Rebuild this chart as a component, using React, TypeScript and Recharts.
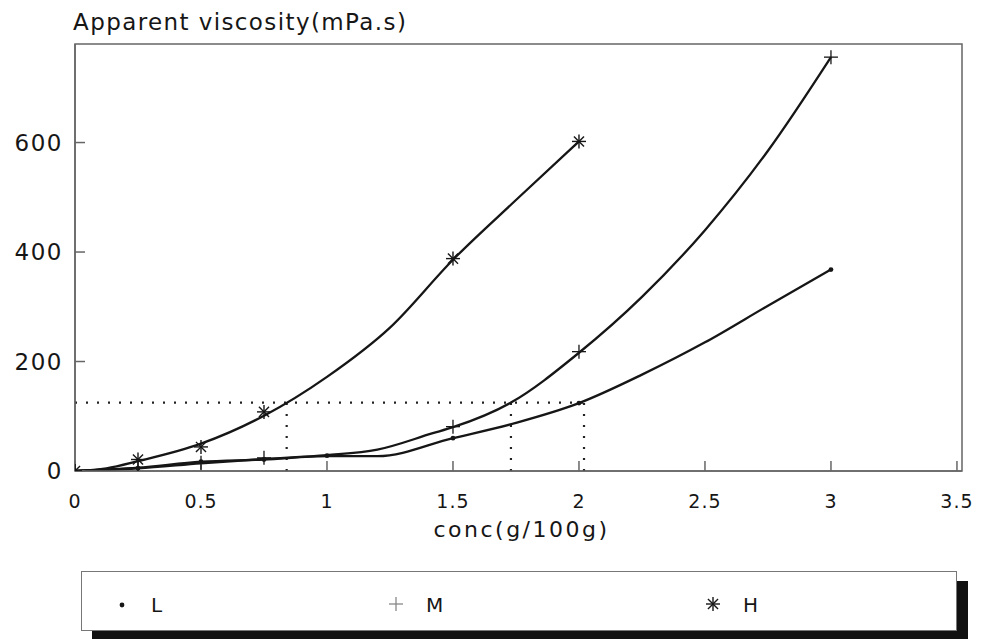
import React from 'react';
import {
  ComposedChart, Line, Scatter, XAxis, YAxis, ReferenceLine, ReferenceArea, Legend,
} from 'recharts';

// measured points (markers)
const lPoints: [number, number][] = [[0, 0], [0.25, 5], [0.5, 17], [0.75, 21], [1, 28], [1.5, 60], [2, 124], [3, 368]];
const mPoints: [number, number][] = [[0, 0], [0.25, 6], [0.5, 15], [0.75, 24], [1.5, 81], [2, 218], [3, 756]];
const hPoints: [number, number][] = [[0, 0], [0.25, 21], [0.5, 44], [0.75, 108], [1.5, 388], [2, 602]];

// fitted curves
const lCurve: [number, number][] = [
  [0, 0], [0.25, 6], [0.5, 17], [0.75, 21], [1, 27], [1.2, 27], [1.5, 60], [1.75, 88],
  [2, 124], [2.25, 176], [2.5, 235], [2.75, 302], [3, 368],
];
const mCurve: [number, number][] = [
  [0, 0], [0.25, 5], [0.5, 14], [0.75, 22], [1, 29], [1.2, 39], [1.42, 69], [1.5, 80],
  [1.73, 125], [2, 216], [2.25, 318], [2.5, 440], [2.75, 585], [3, 756],
];
const hCurve: [number, number][] = [
  [0, 0], [0.125, 5], [0.25, 18], [0.5, 50], [0.75, 101], [1, 172], [1.25, 262],
  [1.5, 386], [1.75, 495], [2, 602],
];

// dotted guide at 125 mPa.s and where it meets each curve
const targetVisc = 125;
const crossConc = [0.84, 1.73, 2.02];

const concTicks = [0, 0.5, 1, 1.5, 2, 2.5, 3, 3.5];
const viscTicks = [0, 200, 400, 600];
const seriesNames = ['L', 'M', 'H'];

const rows = (pts: [number, number][]) => pts.map(([x, y]) => ({ x, y }));

const FONT = '"DejaVu Sans", sans-serif';
const INK = '#161616';
const AXIS = '#666';

function Dot({ cx, cy }: any) {
  return <circle cx={cx} cy={cy} r={2.4} fill={INK} />;
}
function Plus({ cx, cy, color = INK }: any) {
  const r = 7;
  return (
    <g stroke={color} strokeWidth={1.3}>
      <line x1={cx - r} y1={cy} x2={cx + r} y2={cy} />
      <line x1={cx} y1={cy - r} x2={cx} y2={cy + r} />
    </g>
  );
}
function Star({ cx, cy }: any) {
  const r = 7;
  const d = r * 0.72;
  return (
    <g stroke={INK} strokeWidth={1.4}>
      <line x1={cx - r} y1={cy} x2={cx + r} y2={cy} />
      <line x1={cx} y1={cy - r} x2={cx} y2={cy + r} />
      <line x1={cx - d} y1={cy - d} x2={cx + d} y2={cy + d} />
      <line x1={cx - d} y1={cy + d} x2={cx + d} y2={cy - d} />
    </g>
  );
}

function LegendBox() {
  const marks = [
    <Dot cx={40} cy={33} />,
    <Plus cx={314} cy={32} color="#888" />,
    <Star cx={631} cy={32} />,
  ];
  const textX = [69, 344, 661];
  return (
    <div style={{ width: 876, height: 60, boxSizing: 'border-box', border: '1.5px solid #777', background: '#fff', boxShadow: '11px 10px 0 #111' }}>
      <svg width={873} height={57}>
        {seriesNames.map((name, i) => (
          <g key={name}>
            {marks[i]}
            <text x={textX[i]} y={40} fontFamily={FONT} fontSize={20} fill={INK}>{name}</text>
          </g>
        ))}
      </svg>
    </div>
  );
}

export default function App() {
  return (
    <div style={{ position: 'absolute', left: 0, top: 0, width: 995, height: 639, background: '#fff', overflow: 'hidden' }}>
      <ComposedChart width={995} height={639} margin={{ top: 44, right: 33, bottom: 138, left: 0 }}>
        <XAxis
          type="number"
          dataKey="x"
          domain={[0, 3.52]}
          ticks={concTicks}
          allowDataOverflow
          height={30}
          tickSize={-10}
          tickMargin={34}
          stroke={AXIS}
          strokeWidth={1.5}
          tick={{ fontFamily: FONT, fontSize: 19, fill: INK, letterSpacing: 1 }}
          label={{
            content: ({ viewBox }: any) => (
              <text x={viewBox.x + viewBox.width / 2 + 3} y={viewBox.y + 66} textAnchor="middle" fontFamily={FONT} fontSize={22} letterSpacing={2.5} fill={INK}>
                conc(g/100g)
              </text>
            ),
          }}
        />
        <YAxis
          type="number"
          dataKey="y"
          domain={[0, 780]}
          ticks={viscTicks}
          allowDataOverflow
          width={75}
          tickSize={-10}
          tickMargin={22}
          stroke={AXIS}
          strokeWidth={1.5}
          tick={{ fontFamily: FONT, fontSize: 23, fill: INK, letterSpacing: 1.5 }}
          label={{
            content: ({ viewBox }: any) => (
              <text x={viewBox.x + 73} y={viewBox.y - 14} fontFamily={FONT} fontSize={23} letterSpacing={1.4} fill={INK}>
                Apparent viscosity(mPa.s)
              </text>
            ),
          }}
        />
        <ReferenceArea x1={0} x2={3.52} y1={0} y2={780} fill="none" stroke={AXIS} strokeWidth={1.5} />
        <ReferenceLine
          segment={[{ x: 0, y: targetVisc }, { x: crossConc[2], y: targetVisc }]}
          stroke="#222" strokeWidth={2.2} strokeDasharray="2 9"
        />
        {crossConc.map((c) => (
          <ReferenceLine
            key={c}
            segment={[{ x: c, y: 0 }, { x: c, y: targetVisc }]}
            stroke="#222" strokeWidth={2.2} strokeDasharray="2 9"
          />
        ))}
        <Line data={rows(lCurve)} dataKey="y" type="monotone" stroke={INK} strokeWidth={2.3} dot={false} activeDot={false} isAnimationActive={false} name="L" />
        <Line data={rows(mCurve)} dataKey="y" type="monotone" stroke={INK} strokeWidth={2.3} dot={false} activeDot={false} isAnimationActive={false} name="M" />
        <Line data={rows(hCurve)} dataKey="y" type="monotone" stroke={INK} strokeWidth={2.3} dot={false} activeDot={false} isAnimationActive={false} name="H" />
        <Scatter data={rows(lPoints)} dataKey="y" shape={(p: any) => <Dot cx={p.cx} cy={p.cy} />} isAnimationActive={false} />
        <Scatter data={rows(mPoints)} dataKey="y" shape={(p: any) => <Plus cx={p.cx} cy={p.cy} />} isAnimationActive={false} />
        <Scatter data={rows(hPoints)} dataKey="y" shape={(p: any) => <Star cx={p.cx} cy={p.cy} />} isAnimationActive={false} />
        <Legend
          layout="horizontal"
          verticalAlign="middle"
          align="center"
          content={() => <LegendBox />}
          wrapperStyle={{ left: 81, top: 571, width: 876, height: 60 }}
        />
      </ComposedChart>
    </div>
  );
}
